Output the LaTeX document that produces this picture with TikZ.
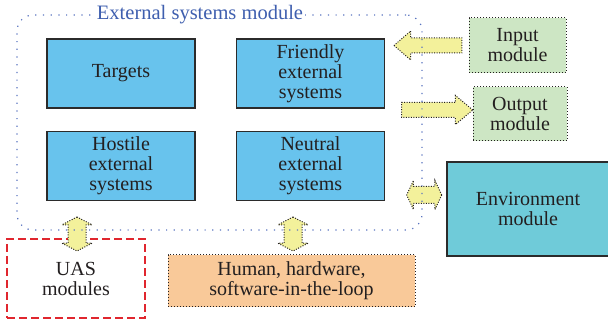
\documentclass[tikz,border=0pt]{standalone}
\usepackage{fontspec}
\setmainfont{LiberationSerif}[Extension=.ttf, UprightFont=*-Regular]
\usepackage{tikz}
\usetikzlibrary{shapes.arrows,positioning,calc}
\definecolor{cInk}{HTML}{231F20}
\definecolor{cEdge}{HTML}{2B2B2B}
\definecolor{cSys}{HTML}{68C3ED}
\definecolor{cEnv}{HTML}{6FCBD9}
\definecolor{cIO}{HTML}{CDE6C4}
\definecolor{cHil}{HTML}{F9C999}
\definecolor{cFat}{HTML}{F3F19B}
\definecolor{cUas}{HTML}{E0262E}
\definecolor{cMod}{HTML}{5A74C0}
\definecolor{cTitle}{HTML}{3F5FAF}
\tikzset{
  txt/.style    = {font=\fontsize{20}{20}\selectfont, text=cInk, align=center},
  sysbox/.style = {txt, draw=cEdge, fill=cSys, line width=1.5pt, inner sep=0pt,
                   minimum width=148pt, minimum height=69pt},
  envbox/.style = {sysbox, fill=cEnv},
  iobox/.style  = {txt, draw=cInk, fill=cIO, line width=1pt, inner sep=0pt,
                   dash pattern=on 1pt off 2pt},
  hilbox/.style = {iobox, fill=cHil},
  uasbox/.style = {txt, draw=cUas, line width=1.3pt, inner sep=0pt,
                   dash pattern=on 8pt off 4pt},
  modbox/.style = {draw=cMod, line width=1.2pt, rounded corners=16pt,
                   dash pattern=on 1.2pt off 6.5pt},
  modtitle/.style = {font=\fontsize{20.5}{20}\selectfont, text=cTitle,
                   fill=white, inner sep=2pt},
  fat/.style    = {draw=cInk, fill=cFat, line width=1pt, inner sep=0pt,
                   dash pattern=on 1pt off 1.5pt},
  fatone/.style = {fat, single arrow, inner ysep=7pt,
                   single arrow head extend=7pt},
  fattwo/.style = {fat, double arrow, double arrow head extend=6pt},
}
\begin{document}
\begin{tikzpicture}[x=1pt, y=-1pt]
  \useasboundingbox (0,0) rectangle (608,320);
  % external systems
  \node[sysbox] (tgt) at (121,73.5) {Targets};
  \node[sysbox, right=40pt of tgt] (frd) {Friendly\\external\\systems};
  \node[sysbox, below=22pt of tgt] (hst) {Hostile\\external\\systems};
  \node[sysbox, below=22pt of frd] (ntr) {Neutral\\external\\systems};
  % outer modules
  \node[iobox, minimum width=97pt, minimum height=55pt] (inp) at (517.5,45.5)
    {Input\\module};
  \node[iobox, minimum width=94pt, minimum height=54pt] (out) at (520,114)
    {Output\\module};
  \node[envbox, minimum width=162pt, minimum height=94pt] (env) at (528,209)
    {Environment\\module};
  \node[uasbox, minimum width=138pt, minimum height=79pt] (uas) at (76,278.5)
    {UAS\\modules};
  \node[hilbox, minimum width=247pt, minimum height=52pt] (hil) at (291.5,281)
    {Human, hardware,\\software-in-the-loop};
  % fat arrows
  \node[fatone, minimum height=68pt, single arrow tip angle=82,
        shape border rotate=180, left=6pt of inp] (inarr) {};
  \node[fatone, minimum height=71pt, single arrow tip angle=80,
        anchor=tip] (outarr) at ($(out.west)+(1,-4)$) {};
  \node[fattwo, minimum height=35pt, inner ysep=8pt, double arrow tip angle=130,
        anchor=east] (envarr) at ($(env.west)+(-4,-14)$) {};
  \node[fattwo, minimum height=34pt, inner sep=8.5pt, double arrow tip angle=125,
        shape border rotate=90] (uasarr) at (77,234) {};
  \node[fattwo, minimum height=34pt, inner sep=8.5pt, double arrow tip angle=125,
        shape border rotate=90] (hilarr) at (293,234) {};
  % module outline and title
  \node[modbox, minimum width=405pt, minimum height=215pt] (ext) at (219.5,122.5) {};
  \node[modtitle] (ttl) at (200,15) {External systems module};
\end{tikzpicture}
\end{document}
